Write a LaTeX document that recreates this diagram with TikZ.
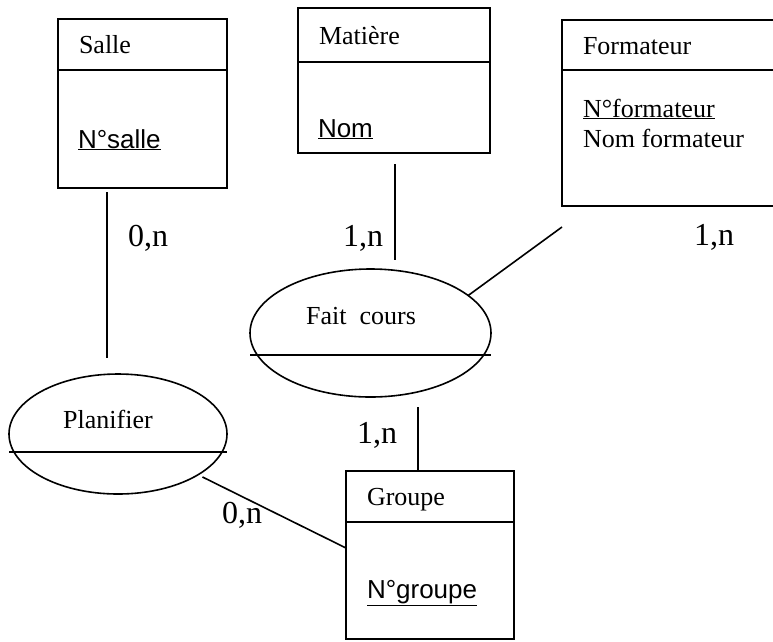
\documentclass[tikz,border=0pt]{standalone}
\usepackage{fontspec}
\setmainfont{Liberation Serif}
\setsansfont{Liberation Sans}
\usetikzlibrary{positioning,shapes.geometric}

\begin{document}
\begin{tikzpicture}[
  x=1pt, y=-1pt, line width=1.6pt,
  every node/.style = {outer sep=0pt},
  head/.style = {draw, anchor=north west, inner xsep=21pt, inner ysep=0pt,
    align=left, text height=18pt, text depth=0pt, font=\fontsize{26}{30}\selectfont},
  body/.style = {draw, inner sep=0pt},
  attr/.style = {anchor=base west, inner sep=0pt, font=\fontsize{26}{30}\selectfont},
  key/.style = {attr, font=\sffamily\fontsize{26}{30}\selectfont},
  relation/.style = {draw, ellipse, inner sep=0pt},
  card/.style = {anchor=base, inner sep=0pt, font=\fontsize{32}{36}\selectfont}
  ]
  \useasboundingbox (0,0) rectangle (773,641);

  \node[head, text width=127pt, minimum height=51pt] (salle) at (58,19) {Salle};
  \node[body, below=0pt of salle, minimum width=169pt, minimum height=118pt] (salle-body) {};
  \node[key] (salle-key) at ([shift={(20,78)}]salle-body.north west) {\underline{N°salle}};

  \node[head, text width=150pt, minimum height=54pt] (matiere) at (298,8) {Matière};
  \node[body, below=0pt of matiere, minimum width=192pt, minimum height=91pt] (matiere-body) {};
  \node[key] (matiere-key) at ([shift={(20,75)}]matiere-body.north west) {\underline{Nom}};

  \node[head, text width=171pt, minimum height=50pt] (formateur) at (562,20) {Formateur};
  \node[body, below=0pt of formateur, minimum width=213pt, minimum height=136pt] (formateur-body) {};
  \node[attr] (formateur-key) at ([shift={(21,47)}]formateur-body.north west) {\underline{N°formateur}};
  \node[attr] (formateur-name) at ([shift={(21,77)}]formateur-body.north west) {Nom formateur};

  \node[head, text width=126pt, minimum height=51pt] (groupe) at (346,471) {Groupe};
  \node[body, below=0pt of groupe, minimum width=168pt, minimum height=117pt] (groupe-body) {};
  \node[key] (groupe-key) at ([shift={(21,76)}]groupe-body.north west) {\underline{N°groupe}};

  \node[relation, minimum width=241pt, minimum height=128pt] (fait) at (370.5,333) {};
  \node[attr, anchor=base] (fait-name) at (361,324) {Fait\ \ cours};
  \draw ([yshift=-22pt]fait.west) -- ([yshift=-22pt]fait.east);

  \node[relation, minimum width=218pt, minimum height=120pt] (planifier) at (118,434) {};
  \node[attr, anchor=base] (planifier-name) at (108,428) {Planifier};
  \draw ([yshift=-18pt]planifier.west) -- ([yshift=-18pt]planifier.east);

  \coordinate (salle-foot) at ([xshift=49pt]salle-body.south west);
  \coordinate (matiere-foot) at ([xshift=97pt]matiere-body.south west);
  \coordinate (groupe-top) at ([xshift=72pt]groupe.north west);

  \draw[shorten <=4pt, shorten >=16pt] (salle-foot) -- (salle-foot |- planifier.north);
  \draw[shorten <=11pt, shorten >=9pt] (matiere-foot) -- (matiere-foot |- fait.north);
  \draw ([yshift=-21pt]formateur-body.south west) -- (fait.21);
  \draw[shorten <=10pt] (groupe-top |- fait.south) -- (groupe-top);
  \draw[shorten <=5pt] (planifier.333) -- ([yshift=-26pt]groupe-body.north west);

  \node[card] (salle-card) at (148,246) {0,n};
  \node[card] (matiere-card) at (363,246) {1,n};
  \node[card] (formateur-card) at (714,245) {1,n};
  \node[card] (groupe-card) at (377,443) {1,n};
  \node[card] (planifier-card) at (242,523) {0,n};
\end{tikzpicture}
\end{document}
